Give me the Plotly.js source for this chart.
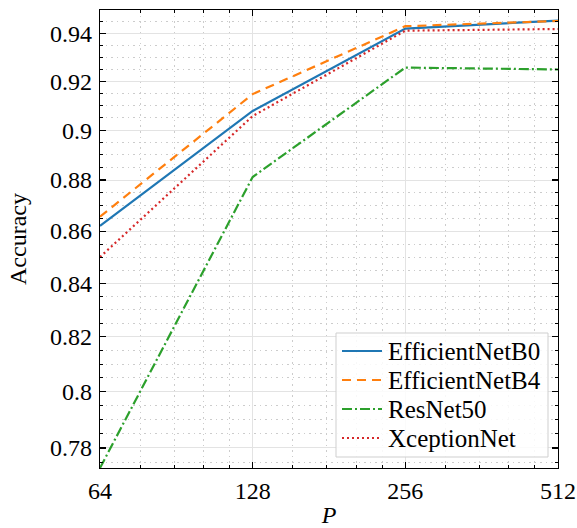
<!DOCTYPE html>
<html>
<head>
<meta charset="utf-8">
<script src="https://cdn.plot.ly/plotly-3.0.1.min.js"></script>
<style>
  html, body { margin: 0; padding: 0; background: #fff; }
  #chart { width: 577px; height: 528px; }
</style>
</head>
<body>
<div id="chart"></div>
<script>
// Patch size P on the x axis (log2 spaced)
const patchSizes = [64, 128, 256, 512];

// Accuracy per model
const modelNames     = ['EfficientNetB0', 'EfficientNetB4', 'ResNet50', 'XceptionNet'];
const efficientNetB0 = [0.8620, 0.9078, 0.9421, 0.9455];
const efficientNetB4 = [0.8656, 0.9147, 0.9431, 0.9453];
const resNet50       = [0.7730, 0.8812, 0.9257, 0.9249];
const xceptionNet    = [0.8500, 0.9057, 0.9412, 0.9419];

// Axis ticks
const xTickVals  = [64, 128, 256, 512];
const xTickText  = ['64', '128', '256', '512'];
const xMinorVals = [76.8, 89.6, 102.4, 115.2, 153.6, 179.2, 204.8, 230.4, 307.2, 358.4, 409.6, 460.8];
const yTickVals  = [0.78, 0.80, 0.82, 0.84, 0.86, 0.88, 0.90, 0.92, 0.94];
const yTickText  = ['0.78', '0.8', '0.82', '0.84', '0.86', '0.88', '0.9', '0.92', '0.94'];
const yMinorVals = [0.775, 0.785, 0.79, 0.795, 0.805, 0.81, 0.815, 0.825, 0.83, 0.835,
                    0.845, 0.85, 0.855, 0.865, 0.87, 0.875, 0.885, 0.89, 0.895,
                    0.905, 0.91, 0.915, 0.925, 0.93, 0.935, 0.945];
const yLimits = [0.773, 0.95];
const xLimits = [64, 512];

const FONT = 'Liberation Serif';
const W = 577, H = 528;
const M = { l: 100, r: 19, t: 10, b: 60 };
const PW = W - M.l - M.r, PH = H - M.t - M.b;

const styles = [
  { color: '#1f77b4', dash: 'solid' },
  { color: '#ff7f0e', dash: '9px,6px' },
  { color: '#2ca02c', dash: '10px,3px,2px,3px' },
  { color: '#d62728', dash: '2px,3px' }
];
const seriesValues = [efficientNetB0, efficientNetB4, resNet50, xceptionNet];

const data = seriesValues.map((y, i) => ({
  x: patchSizes, y: y, name: modelNames[i], type: 'scatter', mode: 'lines',
  line: { color: styles[i].color, width: 2.2, dash: styles[i].dash },
  showlegend: false
}));

// Legend box drawn in the lower-right corner of the plot area (pixel -> paper)
const px = (x) => (x - M.l) / PW;
const py = (y) => (H - M.b - y) / PH;
const legendBox = { x0: 336, x1: 548, y0: 333, y1: 457 };
const rowY = [351, 380, 409, 438];
const sampleX = [342, 382];
const textX = 386;

const shapes = [{
  type: 'rect', xref: 'paper', yref: 'paper', layer: 'above',
  x0: px(legendBox.x0), x1: px(legendBox.x1), y0: py(legendBox.y1), y1: py(legendBox.y0),
  fillcolor: 'rgba(255,255,255,0.85)', line: { color: '#cfcfcf', width: 1 }
}];
const annotations = [];
modelNames.forEach((name, i) => {
  shapes.push({
    type: 'line', xref: 'paper', yref: 'paper', layer: 'above',
    x0: px(sampleX[0]), x1: px(sampleX[1]), y0: py(rowY[i]), y1: py(rowY[i]),
    line: { color: styles[i].color, width: 2.2, dash: styles[i].dash }
  });
  annotations.push({
    xref: 'paper', yref: 'paper', x: px(textX), y: py(rowY[i]),
    xanchor: 'left', yanchor: 'middle', showarrow: false,
    text: name, font: { family: FONT, size: 25, color: '#000' }
  });
});

const minorStyle = (vals) => ({
  tickmode: 'array', tickvals: vals,
  ticks: 'inside', ticklen: 3, tickcolor: '#000', tickwidth: 1,
  showgrid: true, gridcolor: '#cccccc', griddash: '1.5px,4px', gridwidth: 1
});

const axisCommon = {
  type: 'log',
  showline: true, linecolor: '#000', linewidth: 1.2, mirror: 'allticks',
  ticks: 'inside', ticklen: 6, tickwidth: 1.1, tickcolor: '#000',
  showgrid: true, gridcolor: '#e3e3e3', gridwidth: 1,
  zeroline: false,
  tickfont: { family: FONT, size: 24, color: '#000' }
};

const layout = {
  width: W, height: H,
  margin: M,
  font: { family: FONT, color: '#000' },
  paper_bgcolor: '#fff', plot_bgcolor: '#fff',
  showlegend: false,
  xaxis: Object.assign({}, axisCommon, {
    range: xLimits.map(Math.log10),
    tickmode: 'array', tickvals: xTickVals, ticktext: xTickText,
    ticklabelstandoff: 1,
    minor: minorStyle(xMinorVals),
    title: { text: '<i>P</i>', font: { family: FONT, size: 24, color: '#000' }, standoff: 8 }
  }),
  yaxis: Object.assign({}, axisCommon, {
    range: yLimits.map(Math.log10),
    tickmode: 'array', tickvals: yTickVals, ticktext: yTickText,
    ticklabelstandoff: 2,
    minor: minorStyle(yMinorVals),
    title: { text: 'Accuracy', font: { family: FONT, size: 24, color: '#000' }, standoff: 16 }
  }),
  shapes: shapes,
  annotations: annotations
};

Plotly.newPlot('chart', data, layout, { displayModeBar: false, staticPlot: true });
</script>
</body>
</html>
